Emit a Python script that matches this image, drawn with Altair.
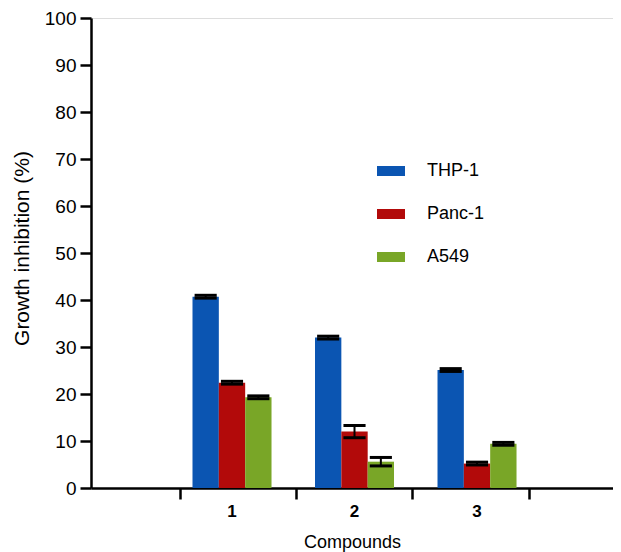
import altair as alt
import pandas as pd

compounds = [1, 2, 3]
cell_lines = ["THP-1", "Panc-1", "A549"]
thp1 = [40.7, 32.0, 25.1]
panc1 = [22.4, 12.0, 5.2]
a549 = [19.3, 5.6, 9.4]
thp1_err = [0.3, 0.3, 0.3]
panc1_err = [0.3, 1.3, 0.3]
a549_err = [0.3, 0.9, 0.3]
colors = ["#0b55b2", "#b20a0a", "#79a627"]
x_ticks = [0.576, 1.522, 2.469, 3.424]

rows = []
for i, c in enumerate(compounds):
    for j, (name, vals, errs) in enumerate(
        [("THP-1", thp1, thp1_err), ("Panc-1", panc1, panc1_err), ("A549", a549, a549_err)]
    ):
        rows.append({"compound": c, "line": name, "idx": j, "value": vals[i], "err": errs[i]})
df = pd.DataFrame(rows)
labels_df = pd.DataFrame({"compound": compounds, "label": [str(c) for c in compounds]})

W, H = 522, 470
BW = 0.215

base = alt.Chart(df).transform_calculate(
    xc=f"datum.compound + (datum.idx - 1) * {BW}",
    xlo=f"datum.compound + (datum.idx - 1) * {BW} - {BW/2}",
    xhi=f"datum.compound + (datum.idx - 1) * {BW} + {BW/2}",
    clo=f"datum.compound + (datum.idx - 1) * {BW} - {BW*0.42}",
    chi=f"datum.compound + (datum.idx - 1) * {BW} + {BW*0.42}",
    ylo="datum.value - datum.err",
    yhi="datum.value + datum.err",
    zero="0",
)

xscale = alt.Scale(domain=[-0.151, 4.110], nice=False, zero=False)
yscale = alt.Scale(domain=[0, 100], nice=False)

xaxis = alt.Axis(
    values=x_ticks, labels=False, grid=False, tickSize=11, tickWidth=2.5,
    domainWidth=2.5, domainColor="black", tickColor="black",
    title="Compounds", titleFont="Liberation Sans", titleFontSize=18,
    titleFontWeight="normal", titleColor="black", titlePadding=33,
)
yaxis = alt.Axis(
    values=list(range(0, 101, 10)), grid=False, tickSize=11, tickWidth=2.5,
    domainWidth=2.5, domainColor="black", tickColor="black",
    labelFont="Liberation Sans", labelFontSize=19, labelColor="black", labelPadding=4,
    title="Growth inhibition (%)", titleFont="Liberation Sans", titleFontSize=21,
    titleFontWeight="normal", titleColor="black", titleX=-69, titleY=230,
    titleAngle=-90, titleAlign="center", titleBaseline="middle",
)

bars = base.mark_bar().encode(
    x=alt.X("xlo:Q", scale=xscale, axis=xaxis),
    x2="xhi:Q",
    y=alt.Y("value:Q", scale=yscale, axis=yaxis),
    y2="zero:Q",
    color=alt.Color(
        "line:N",
        scale=alt.Scale(domain=cell_lines, range=colors),
        legend=alt.Legend(
            title=None, orient="none", legendX=290, legendY=143,
            symbolType="M-1.4,-0.5L1.4,-0.5L1.4,0.5L-1.4,0.5Z", symbolSize=400,
            symbolStrokeWidth=0, labelFont="Liberation Sans", labelFontSize=18,
            labelColor="black", labelOffset=26, rowPadding=24,
        ),
    ),
)

err_v = base.mark_rule(color="black", strokeWidth=2).encode(
    x="xc:Q", y="ylo:Q", y2="yhi:Q"
)
cap_top = base.mark_rule(color="black", strokeWidth=3).encode(
    x="clo:Q", x2="chi:Q", y="yhi:Q"
)
cap_bot = base.mark_rule(color="black", strokeWidth=3).encode(
    x="clo:Q", x2="chi:Q", y="ylo:Q"
)

tick_labels = alt.Chart(labels_df).mark_text(
    font="Liberation Sans", fontSize=17, fontWeight="bold", color="black",
    baseline="middle", align="center",
).encode(
    x=alt.X("compound:Q", scale=xscale),
    y=alt.value(H + 24),
    text="label:N",
)

chart = alt.layer(bars, err_v, cap_top, cap_bot, tick_labels).properties(
    width=W, height=H,
    autosize=alt.AutoSizeParams(type="none"),
    padding={"left": 83, "top": 10, "right": 0, "bottom": 66},
).configure_view(stroke=None).configure(background="white")

chart.save("out.html", embed_options={"renderer": "svg", "actions": False})
